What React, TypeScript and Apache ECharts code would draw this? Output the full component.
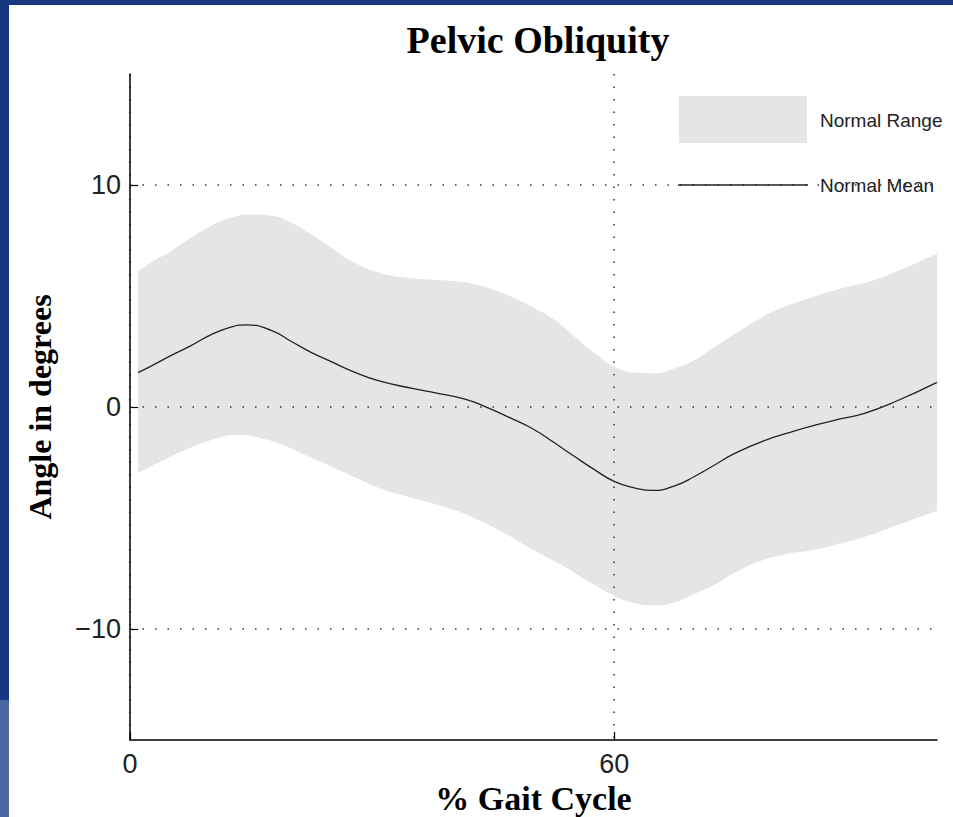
import React, { useEffect, useRef } from 'react';
import * as echarts from 'echarts';

// Normal mean pelvic obliquity (degrees) at % gait cycle positions
const meanPct = [1, 2.5, 5, 7.5, 10, 12.5, 14.5, 17.5, 20, 22.5, 25, 27.5, 31, 35, 38, 41.5, 44, 47, 50, 52.5, 55, 57.5, 60, 62.5, 64.8, 67.5, 70, 72.5, 75, 78.7, 82, 85, 88, 91, 95, 100];
const normalMean = [1.55, 1.82, 2.3, 2.75, 3.25, 3.6, 3.7, 3.45, 2.95, 2.45, 2.03, 1.62, 1.16, 0.84, 0.63, 0.36, 0.02, -0.47, -1.0, -1.59, -2.21, -2.81, -3.35, -3.64, -3.76, -3.55, -3.12, -2.6, -2.08, -1.5, -1.12, -0.81, -0.54, -0.29, 0.27, 1.11];
// Normal range upper bound (degrees)
const upperPct = [1, 2.5, 5, 7.5, 10, 12.5, 15, 17.5, 20, 22.5, 25, 27.5, 31, 35, 38, 41, 43, 45.5, 48, 50, 52.5, 55, 57.5, 60, 62.5, 65, 67.5, 70, 72.5, 75, 78, 81, 85, 88, 92, 96, 100];
const normalUpper = [6.11, 6.49, 7.01, 7.61, 8.14, 8.52, 8.67, 8.62, 8.3, 7.77, 7.16, 6.56, 6.04, 5.8, 5.72, 5.64, 5.5, 5.22, 4.84, 4.47, 3.95, 3.2, 2.45, 1.82, 1.55, 1.52, 1.75, 2.12, 2.72, 3.3, 3.98, 4.5, 5.0, 5.33, 5.69, 6.26, 6.92];
// Normal range lower bound (degrees)
const lowerPct = [1, 4, 7, 10, 13.3, 16, 19, 22, 25, 28, 31, 34, 37, 39.5, 42, 46, 50, 52.5, 55, 57.5, 60, 62.5, 65, 67.5, 70, 72.5, 75, 78, 81, 85, 88, 91, 95, 100];
const normalLower = [-2.96, -2.42, -1.91, -1.5, -1.26, -1.38, -1.72, -2.21, -2.69, -3.19, -3.67, -4.0, -4.3, -4.55, -4.9, -5.6, -6.45, -6.92, -7.45, -8.0, -8.5, -8.83, -8.94, -8.79, -8.41, -7.98, -7.45, -6.95, -6.65, -6.42, -6.15, -5.86, -5.33, -4.67];
// Tick labels
const xTickValues = [0, 60];
const yTickValues = [-10, 0, 10];
const legendLabels = ['Normal Range', 'Normal Mean'];

const SERIF = "'Liberation Serif', 'DejaVu Serif', serif";
const SANS = "'Liberation Sans', Arial, sans-serif";
const BAND = '#e5e5e5';
const MEAN = '#222222';

export default function App() {
  const ref = useRef<HTMLDivElement>(null);

  useEffect(() => {
    if (!ref.current) return;
    const chart = echarts.init(ref.current, null, { renderer: 'svg' });

    const upperData = upperPct.map((x, i) => [x, normalUpper[i]]);
    const lowerData = lowerPct.map((x, i) => [x, normalLower[i]]);
    const meanData = meanPct.map((x, i) => [x, normalMean[i]]);

    const dotted = { type: [1.5, 11] as number[], color: '#333', width: 1.5 };
    const fmt = (v: number) => (v < 0 ? '\u2212' + Math.abs(v) : String(v));

    chart.setOption({
      animation: false,
      backgroundColor: '#ffffff',
      graphic: [
        { type: 'rect', left: 0, top: 0, shape: { width: 953, height: 5 }, style: { fill: '#163882' }, silent: true },
        { type: 'rect', left: 0, top: 0, shape: { width: 9, height: 700 }, style: { fill: '#163882' }, silent: true },
        { type: 'rect', left: 0, top: 700, shape: { width: 9, height: 120 }, style: { fill: '#4c67a0' }, silent: true },
        // legend
        { type: 'rect', shape: { x: 679, y: 96, width: 128, height: 47 }, style: { fill: BAND }, silent: true, z: 20 },
        { type: 'line', shape: { x1: 678, y1: 185, x2: 808, y2: 185 }, style: { stroke: MEAN, lineWidth: 1.3 }, silent: true, z: 20 },
        {
          type: 'text', x: 820, y: 120, silent: true, z: 20,
          style: { text: legendLabels[0], fontFamily: SANS, fontSize: 19, fill: '#222', verticalAlign: 'middle', align: 'left' },
        },
        {
          type: 'text', x: 820, y: 185, silent: true, z: 20,
          style: { text: legendLabels[1], fontFamily: SANS, fontSize: 19, fill: '#222', verticalAlign: 'middle', align: 'left' },
        },
      ],
      title: {
        text: 'Pelvic Obliquity',
        left: 533,
        top: 16,
        textAlign: 'center',
        textStyle: { fontFamily: SERIF, fontWeight: 'bold', fontSize: 38, color: '#000' },
      },
      grid: { left: 130, top: 74, width: 807, height: 666, containLabel: false, outerBoundsMode: 'none' },
      xAxis: {
        type: 'value',
        min: 0,
        max: 100,
        z: 10,
        name: '% Gait Cycle',
        nameLocation: 'middle',
        nameGap: 29,
        nameTextStyle: { fontFamily: SERIF, fontWeight: 'bold', fontSize: 34, lineHeight: 34, color: '#000' },
        axisLine: { onZero: false, lineStyle: { color: '#000', width: 1.5 } },
        axisTick: { inside: true, length: 8, customValues: xTickValues, lineStyle: { color: '#000', width: 1.2 } },
        axisLabel: { customValues: xTickValues, margin: 10, fontFamily: SANS, fontSize: 27, color: '#222', formatter: fmt },
        splitLine: { show: true, lineStyle: dotted },
      },
      yAxis: {
        type: 'value',
        min: -15,
        max: 15,
        z: 10,
        name: 'Angle in degrees',
        nameLocation: 'middle',
        nameRotate: 90,
        nameGap: 74,
        nameTextStyle: { fontFamily: SERIF, fontWeight: 'bold', fontSize: 32, color: '#000' },
        axisLine: { show: true, lineStyle: { color: '#000', width: 1.5 } },
        axisTick: { show: true, inside: true, length: 8, customValues: yTickValues, lineStyle: { color: '#000', width: 1.2 } },
        axisLabel: { customValues: yTickValues, margin: 9, fontFamily: SANS, fontSize: 27, color: '#222', formatter: fmt },
        splitLine: { show: true, lineStyle: dotted },
      },
      series: [
        {
          name: 'Normal Range',
          type: 'line',
          data: upperData,
          smooth: 0.5,
          symbol: 'none',
          color: BAND,
          lineStyle: { opacity: 0, width: 0 },
          areaStyle: { color: BAND, opacity: 1, origin: 'start' },
          silent: true,
          z: 1,
        },
        {
          name: 'Normal Range lower',
          type: 'line',
          data: lowerData,
          smooth: 0.5,
          symbol: 'none',
          color: '#ffffff',
          lineStyle: { opacity: 0, width: 0 },
          areaStyle: { color: '#ffffff', opacity: 1, origin: 'start' },
          silent: true,
          z: 2,
        },
        {
          name: 'Normal Mean',
          type: 'line',
          data: meanData,
          smooth: 0.5,
          symbol: 'none',
          color: MEAN,
          lineStyle: { color: MEAN, width: 1.3 },
          silent: true,
          z: 3,
        },
      ],
    });

    return () => chart.dispose();
  }, []);

  return <div ref={ref} style={{ position: 'fixed', left: 0, top: 0, width: 953, height: 817 }} />;
}
